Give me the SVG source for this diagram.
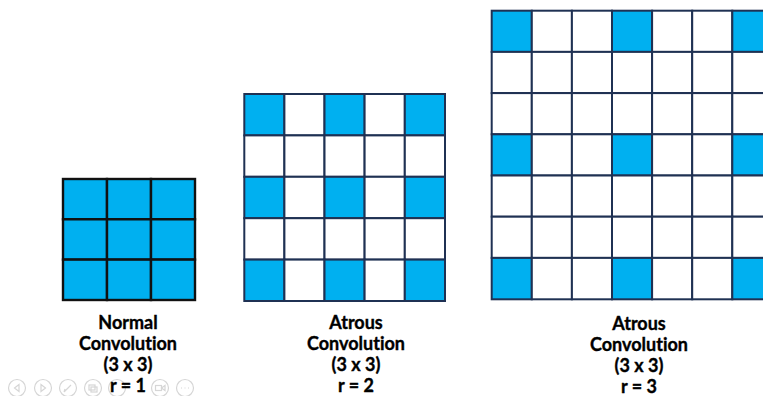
<svg xmlns="http://www.w3.org/2000/svg" width="763" height="396" viewBox="0 0 763 396">
<style>
.b{fill:#00B0F0}
.w{fill:#FFFFFF}
.g1 rect{stroke:#111111;stroke-width:2.4}
.g2 rect,.g3 rect{stroke:#1F3153;stroke-width:2}
.t{font-family:Lato,"Open Sans","Liberation Sans",sans-serif;font-weight:700;font-size:18px;fill:#000000;stroke:#000000;stroke-width:0.35;text-anchor:middle;font-variant-ligatures:none;font-feature-settings:"liga" 0}
.c{fill:none;stroke:#D6D6D6;stroke-width:1.2}
</style>
<rect width="763" height="396" fill="#FFFFFF"/>
<g id="grid-r1" class="g1">
<rect class="b" x="63" y="179" width="44" height="40.3"/><rect class="b" x="107" y="179" width="44" height="40.3"/><rect class="b" x="151" y="179" width="44" height="40.3"/>
<rect class="b" x="63" y="219.3" width="44" height="40.3"/><rect class="b" x="107" y="219.3" width="44" height="40.3"/><rect class="b" x="151" y="219.3" width="44" height="40.3"/>
<rect class="b" x="63" y="259.6" width="44" height="40.4"/><rect class="b" x="107" y="259.6" width="44" height="40.4"/><rect class="b" x="151" y="259.6" width="44" height="40.4"/>
</g>
<g id="grid-r2" class="g2">
<rect class="b" x="244.3" y="94" width="40.1" height="41.4"/><rect class="w" x="284.4" y="94" width="40.1" height="41.4"/><rect class="b" x="324.5" y="94" width="40.1" height="41.4"/><rect class="w" x="364.6" y="94" width="40.2" height="41.4"/><rect class="b" x="404.8" y="94" width="40.2" height="41.4"/>
<rect class="w" x="244.3" y="135.4" width="40.1" height="41.4"/><rect class="w" x="284.4" y="135.4" width="40.1" height="41.4"/><rect class="w" x="324.5" y="135.4" width="40.1" height="41.4"/><rect class="w" x="364.6" y="135.4" width="40.2" height="41.4"/><rect class="w" x="404.8" y="135.4" width="40.2" height="41.4"/>
<rect class="b" x="244.3" y="176.8" width="40.1" height="41.4"/><rect class="w" x="284.4" y="176.8" width="40.1" height="41.4"/><rect class="b" x="324.5" y="176.8" width="40.1" height="41.4"/><rect class="w" x="364.6" y="176.8" width="40.2" height="41.4"/><rect class="b" x="404.8" y="176.8" width="40.2" height="41.4"/>
<rect class="w" x="244.3" y="218.2" width="40.1" height="41.4"/><rect class="w" x="284.4" y="218.2" width="40.1" height="41.4"/><rect class="w" x="324.5" y="218.2" width="40.1" height="41.4"/><rect class="w" x="364.6" y="218.2" width="40.2" height="41.4"/><rect class="w" x="404.8" y="218.2" width="40.2" height="41.4"/>
<rect class="b" x="244.3" y="259.6" width="40.1" height="41.4"/><rect class="w" x="284.4" y="259.6" width="40.1" height="41.4"/><rect class="b" x="324.5" y="259.6" width="40.1" height="41.4"/><rect class="w" x="364.6" y="259.6" width="40.2" height="41.4"/><rect class="b" x="404.8" y="259.6" width="40.2" height="41.4"/>
</g>
<g id="grid-r3" class="g3">
<rect class="b" x="491.7" y="10.7" width="40.1" height="41.2"/><rect class="w" x="531.8" y="10.7" width="40.1" height="41.2"/><rect class="w" x="571.9" y="10.7" width="40.1" height="41.2"/><rect class="b" x="612" y="10.7" width="40.1" height="41.2"/><rect class="w" x="652.1" y="10.7" width="40.1" height="41.2"/><rect class="w" x="692.2" y="10.7" width="40.1" height="41.2"/><rect class="b" x="732.3" y="10.7" width="40.1" height="41.2"/>
<rect class="w" x="491.7" y="51.9" width="40.1" height="41.2"/><rect class="w" x="531.8" y="51.9" width="40.1" height="41.2"/><rect class="w" x="571.9" y="51.9" width="40.1" height="41.2"/><rect class="w" x="612" y="51.9" width="40.1" height="41.2"/><rect class="w" x="652.1" y="51.9" width="40.1" height="41.2"/><rect class="w" x="692.2" y="51.9" width="40.1" height="41.2"/><rect class="w" x="732.3" y="51.9" width="40.1" height="41.2"/>
<rect class="w" x="491.7" y="93.1" width="40.1" height="41.2"/><rect class="w" x="531.8" y="93.1" width="40.1" height="41.2"/><rect class="w" x="571.9" y="93.1" width="40.1" height="41.2"/><rect class="w" x="612" y="93.1" width="40.1" height="41.2"/><rect class="w" x="652.1" y="93.1" width="40.1" height="41.2"/><rect class="w" x="692.2" y="93.1" width="40.1" height="41.2"/><rect class="w" x="732.3" y="93.1" width="40.1" height="41.2"/>
<rect class="b" x="491.7" y="134.3" width="40.1" height="41.2"/><rect class="w" x="531.8" y="134.3" width="40.1" height="41.2"/><rect class="w" x="571.9" y="134.3" width="40.1" height="41.2"/><rect class="b" x="612" y="134.3" width="40.1" height="41.2"/><rect class="w" x="652.1" y="134.3" width="40.1" height="41.2"/><rect class="w" x="692.2" y="134.3" width="40.1" height="41.2"/><rect class="b" x="732.3" y="134.3" width="40.1" height="41.2"/>
<rect class="w" x="491.7" y="175.5" width="40.1" height="41.2"/><rect class="w" x="531.8" y="175.5" width="40.1" height="41.2"/><rect class="w" x="571.9" y="175.5" width="40.1" height="41.2"/><rect class="w" x="612" y="175.5" width="40.1" height="41.2"/><rect class="w" x="652.1" y="175.5" width="40.1" height="41.2"/><rect class="w" x="692.2" y="175.5" width="40.1" height="41.2"/><rect class="w" x="732.3" y="175.5" width="40.1" height="41.2"/>
<rect class="w" x="491.7" y="216.7" width="40.1" height="41.2"/><rect class="w" x="531.8" y="216.7" width="40.1" height="41.2"/><rect class="w" x="571.9" y="216.7" width="40.1" height="41.2"/><rect class="w" x="612" y="216.7" width="40.1" height="41.2"/><rect class="w" x="652.1" y="216.7" width="40.1" height="41.2"/><rect class="w" x="692.2" y="216.7" width="40.1" height="41.2"/><rect class="w" x="732.3" y="216.7" width="40.1" height="41.2"/>
<rect class="b" x="491.7" y="257.9" width="40.1" height="41.4"/><rect class="w" x="531.8" y="257.9" width="40.1" height="41.4"/><rect class="w" x="571.9" y="257.9" width="40.1" height="41.4"/><rect class="b" x="612" y="257.9" width="40.1" height="41.4"/><rect class="w" x="652.1" y="257.9" width="40.1" height="41.4"/><rect class="w" x="692.2" y="257.9" width="40.1" height="41.4"/><rect class="b" x="732.3" y="257.9" width="40.1" height="41.4"/>
</g>
<g id="controls">
<circle class="c" cx="17" cy="388" r="8.5"/><path class="c" d="M19 384.5 L14.5 388 L19 391.5 Z"/>
<circle class="c" cx="43" cy="388" r="8.5"/><path class="c" d="M41 384.5 L45.5 388 L41 391.5 Z"/>
<circle class="c" cx="68" cy="388" r="8.5"/><path class="c" d="M64 392 L71 385 M64 392 L65 389"/>
<circle class="c" cx="93" cy="388" r="8.5"/><rect class="c" x="89" y="385" width="6" height="5"/><rect class="c" x="91" y="387" width="6" height="5"/>
<circle class="c" cx="117" cy="388" r="8.5"/>
<circle class="c" cx="160" cy="388" r="8.5"/><rect class="c" x="155.5" y="385.5" width="6" height="5"/><path class="c" d="M161.5 388 L165 385.5 L165 390.5 Z"/>
<circle class="c" cx="185" cy="388" r="8.5"/><path class="c" d="M181 388 h1 M184.5 388 h1 M188 388 h1"/>
</g>
<g id="label-r1"><text class="t"><tspan x="128" y="329">Normal</tspan><tspan x="128" y="350">Convolution</tspan><tspan x="128" y="371">(3 x 3)</tspan><tspan x="128" y="392">r = 1</tspan></text></g>
<g id="label-r2"><text class="t"><tspan x="356" y="329">Atrous</tspan><tspan x="356" y="350">Convolution</tspan><tspan x="356" y="371">(3 x 3)</tspan><tspan x="356" y="392">r = 2</tspan></text></g>
<g id="label-r3"><text class="t"><tspan x="639" y="330">Atrous</tspan><tspan x="639" y="351">Convolution</tspan><tspan x="639" y="372">(3 x 3)</tspan><tspan x="639" y="393">r = 3</tspan></text></g>
</svg>
